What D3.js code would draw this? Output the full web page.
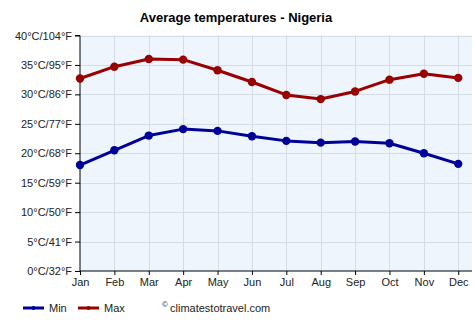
<!DOCTYPE html>
<html>
<head>
<meta charset="utf-8">
<script src="https://cdn.jsdelivr.net/npm/d3@7"></script>
<style>
  html, body { margin: 0; padding: 0; background: #fff; }
  svg { display: block; font-family: "Liberation Sans", Arial, sans-serif; }
</style>
</head>
<body>
<svg id="chart" width="474" height="331"></svg>
<script>
// Monthly average temperatures (°C)
const months = ["Jan","Feb","Mar","Apr","May","Jun","Jul","Aug","Sep","Oct","Nov","Dec"];
const minTemps = [18.0, 20.5, 23.0, 24.1, 23.8, 22.9, 22.1, 21.8, 22.0, 21.7, 20.0, 18.2];
const maxTemps = [32.7, 34.7, 36.0, 35.9, 34.1, 32.1, 29.9, 29.2, 30.5, 32.5, 33.5, 32.8];
const yTicks = [0, 5, 10, 15, 20, 25, 30, 35, 40];
const seriesNames = ["Min", "Max"];
const seriesColors = ["#000099", "#990000"];

const svg = d3.select("#chart");
const plotLeft = 80, plotRight = 472, plotTop = 35.5, plotBottom = 271;

const x = d3.scaleLinear().domain([0, 11.4]).range([plotLeft, plotRight]);
const y = d3.scaleLinear().domain([0, 40]).range([plotBottom, plotTop]);
const toF = c => Math.round(c * 9 / 5 + 32);

// Plot background
svg.append("rect")
  .attr("x", plotLeft).attr("y", plotTop)
  .attr("width", plotRight - plotLeft).attr("height", plotBottom - plotTop)
  .attr("fill", "#eef5fd");

// Grid lines
const grid = svg.append("g").attr("stroke", "#d5dce6").attr("stroke-width", 1);
grid.selectAll("line.h").data(yTicks.slice(1)).join("line")
  .attr("class", "h")
  .attr("x1", plotLeft).attr("x2", plotRight)
  .attr("y1", d => Math.round(y(d)) + 0.5).attr("y2", d => Math.round(y(d)) + 0.5);
grid.selectAll("line.v").data(d3.range(1, 12)).join("line")
  .attr("class", "v")
  .attr("y1", plotTop).attr("y2", plotBottom)
  .attr("x1", d => Math.round(x(d)) + 0.5).attr("x2", d => Math.round(x(d)) + 0.5);

// Y axis
const yAxis = d3.axisLeft(y)
  .tickValues(yTicks)
  .tickSize(5)
  .tickPadding(3)
  .tickFormat(d => `${d}°C/${toF(d)}°F`);
const gy = svg.append("g").attr("transform", `translate(${plotLeft},0)`).call(yAxis);
gy.select(".domain").attr("stroke", "#000").attr("d", `M-5,${plotTop}H0V${plotBottom}`);
gy.selectAll(".tick line").attr("stroke", "#000");
gy.selectAll(".tick text").attr("fill", "#222").style("font-size", "11px");

// X axis
const xAxis = d3.axisBottom(x)
  .tickValues(d3.range(12))
  .tickSize(4)
  .tickPadding(3)
  .tickFormat(i => months[i]);
const gx = svg.append("g").attr("transform", `translate(0,${plotBottom})`).call(xAxis);
gx.select(".domain").attr("stroke", "#000").attr("d", `M${plotLeft},0H${plotRight}`);
gx.selectAll(".tick line").attr("stroke", "#000");
gx.selectAll(".tick text").attr("fill", "#222").style("font-size", "11px");

// Series lines and markers
const line = d3.line().x((d, i) => x(i)).y(d => y(d));
[minTemps, maxTemps].forEach((vals, k) => {
  svg.append("path")
    .datum(vals)
    .attr("d", line)
    .attr("fill", "none")
    .attr("stroke", seriesColors[k])
    .attr("stroke-width", 3)
    .attr("stroke-linejoin", "round");
  svg.append("g").selectAll("circle").data(vals).join("circle")
    .attr("cx", (d, i) => x(i))
    .attr("cy", d => y(d))
    .attr("r", 4.2)
    .attr("fill", seriesColors[k]);
});

// Title
svg.append("text")
  .attr("x", 236).attr("y", 22)
  .attr("text-anchor", "middle")
  .style("font-size", "13px").style("font-weight", "bold")
  .attr("fill", "#000")
  .text("Average temperatures - Nigeria");

// Legend
const legendX = [23, 78];
seriesNames.forEach((name, k) => {
  const g = svg.append("g").attr("transform", `translate(${legendX[k]},308)`);
  g.append("line").attr("x1", 0).attr("x2", 21).attr("y1", 0).attr("y2", 0)
    .attr("stroke", seriesColors[k]).attr("stroke-width", 3);
  g.append("circle").attr("cx", 10.5).attr("cy", 0).attr("r", 2).attr("fill", seriesColors[k]);
  g.append("text").attr("x", 26).attr("y", 4)
    .style("font-size", "11px").attr("fill", "#222").text(name);
});

svg.append("text").attr("x", 162).attr("y", 307)
  .style("font-size", "8px").attr("fill", "#222").text("©");
svg.append("text").attr("x", 170).attr("y", 312)
  .style("font-size", "11px").attr("fill", "#222").text("climatestotravel.com");
</script>
</body>
</html>
